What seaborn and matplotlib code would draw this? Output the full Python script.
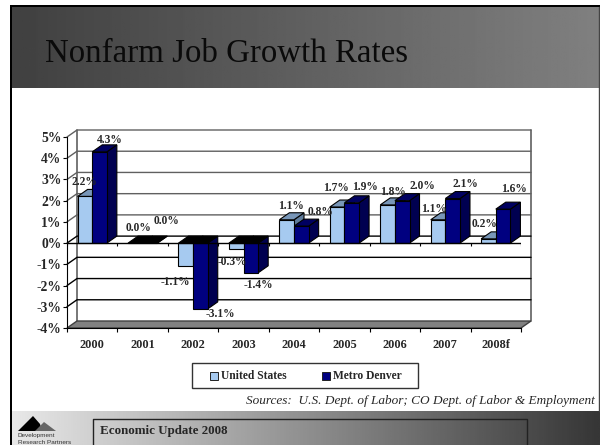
import numpy as np
import pandas as pd
import matplotlib.pyplot as plt
import seaborn as sns

years = ['2000', '2001', '2002', '2003', '2004', '2005', '2006', '2007', '2008f']
us = [2.2, 0.0, -1.1, -0.3, 1.1, 1.7, 1.8, 1.1, 0.2]
denver = [4.3, 0.0, -3.1, -1.4, 0.8, 1.9, 2.0, 2.1, 1.6]
y_ticks = [-4, -3, -2, -1, 0, 1, 2, 3, 4, 5]

# label offsets from the bar top in pixels, picked by eye
us_off = [(0, 14), (3, 15), (-10, -16), (-4, -13), (4, 14), (-1, 19), (5, 13), (-4, 11), (-4, 15)]
denver_off = [(10, 12), (17, 22), (20, -5), (8, -12), (19, 14), (13, 16), (20, 15), (13, 15), (11, 20)]

W, H = 600, 445
SERIF = 'Liberation Serif'
sns.set_style('white', {'font.family': SERIF})
plt.rcParams['font.family'] = SERIF

fig = plt.figure(figsize=(6, 4.45), dpi=100)

# slide background, in pixel coords
bg = fig.add_axes([0, 0, 1, 1])
bg.axis('off')
bg.imshow(np.linspace(0x40, 0x80, 256).reshape(1, -1), cmap='gray', vmin=0, vmax=255,
          extent=(12, 600, 88, 7), aspect='auto')
bg.imshow(np.linspace(0xe8, 0x36, 256).reshape(1, -1), cmap='gray', vmin=0, vmax=255,
          extent=(12, 600, 445, 411), aspect='auto')
bg.set_xlim(0, W)
bg.set_ylim(H, 0)
bg.fill([10, 600, 600, 10], [5, 5, 7, 7], color='black', lw=0)
bg.fill([10, 12, 12, 10], [5, 5, 445, 445], color='black', lw=0)
bg.plot([599, 599], [7, 411], color='#444444', lw=1)
bg.text(45, 54, 'Nonfarm Job Growth Rates', fontsize=23.7, color='#0a0a0a', va='center', ha='left')

# footer
bg.plot([93, 93, 527, 527], [445, 419, 419, 445], color='#222222', lw=1)
bg.text(100, 431, 'Economic Update 2008', fontsize=9.4, fontweight='bold', va='center', ha='left')
bg.fill([18, 33, 40, 42, 35], [431, 416, 424, 431, 431], color='black', lw=0)
bg.fill([35, 44, 56], [431, 422, 431], color='#666666', lw=0)
bg.text(18, 436, 'Development', fontsize=4.6, family='Liberation Sans', color='#333333', va='center')
bg.text(18, 442, 'Research Partners', fontsize=4.6, family='Liberation Sans', color='#333333', va='center')

# legend and source
bg.fill([191.5, 418, 418, 191.5], [363, 363, 388, 388], facecolor='white', edgecolor='#333333', lw=1)
bg.fill([210, 218, 218, 210], [372, 372, 380, 380], facecolor='#a6caf0', edgecolor='#222222', lw=0.7)
bg.fill([322, 330, 330, 322], [372, 372, 380, 380], facecolor='#000080', edgecolor='#222222', lw=0.7)
bg.text(221, 376, 'United States', fontsize=8.3, fontweight='bold', va='center', ha='left')
bg.text(333, 376, 'Metro Denver', fontsize=8.3, fontweight='bold', va='center', ha='left')
bg.text(595, 401, 'Sources:  U.S. Dept. of Labor; CO Dept. of Labor & Employment',
        fontsize=9.55, style='italic', va='center', ha='right')

# chart, axes box is the front plane of the 3d look
ax = fig.add_axes([67 / W, 1 - 328 / H, (521 - 67) / W, (328 - 137) / H])
ax.patch.set_alpha(0)

df = pd.DataFrame({
    'year': years + years,
    'value': us + denver,
    'series': ['United States'] * len(us) + ['Metro Denver'] * len(denver),
})
sns.barplot(data=df, x='year', y='value', hue='series', order=years,
            hue_order=['United States', 'Metro Denver'],
            palette=['#a6caf0', '#000080'], width=0.58, gap=0, saturation=1,
            edgecolor='black', linewidth=0.8, legend=False, ax=ax, zorder=6)
ax.set_xlim(-0.5, 8.5)
ax.set_ylim(-4, 5)
ax.set_xlabel('')
ax.set_ylabel('')

dx = 10 / ((521 - 67) / 9)
dy = 7 / ((328 - 137) / 9)

# back wall and floor
x0, x1 = -0.5, 8.5
ax.plot([x0 + dx, x0 + dx], [-4 + dy, 5 + dy], color='#606060', lw=1.2, clip_on=False, zorder=1)
ax.plot([x1 + dx, x1 + dx], [-4 + dy, 5 + dy], color='#606060', lw=1.2, clip_on=False, zorder=1)
for t in y_ticks[1:]:
    col = '#606060' if t > 0 else 'black'
    ax.plot([x0, x0 + dx, x1 + dx], [t, t + dy, t + dy], color=col, lw=1, clip_on=False, zorder=1)
ax.fill([x0, x1, x1 + dx, x0 + dx], [-4, -4, -4 + dy, -4 + dy], facecolor='#808080',
        edgecolor='#404040', lw=1, clip_on=False, zorder=2)

# side and top faces
w = 0.29
for j, (vals, top_col, side_col) in enumerate([(us, '#7896b8', '#5f7c9c'), (denver, '#000060', '#000050')]):
    for i, v in enumerate(vals):
        left = i - w + j * w
        right = left + w
        hi = max(v, 0)
        lo = min(v, 0)
        ax.fill([right, right + dx, right + dx, right], [lo, lo + dy, hi + dy, hi],
                facecolor=side_col, edgecolor='black', lw=0.8, clip_on=False, zorder=3 + j)
        face = top_col if v > 0 else 'black'
        ax.fill([left, right, right + dx, left + dx], [hi, hi, hi + dy, hi + dy],
                facecolor=face, edgecolor='black', lw=0.8, clip_on=False, zorder=3 + j)

# front axis at zero with its ticks
bounds = np.arange(-0.5, 9)
ax.plot([x0, x1], [0, 0], color='black', lw=1, zorder=7)
ax.vlines(bounds, -0.14, 0, color='black', lw=0.8, zorder=7)

# value labels
for j, (vals, offs) in enumerate([(us, us_off), (denver, denver_off)]):
    for i, v in enumerate(vals):
        ax.annotate(f'{v:.1f}%', (i - w / 2 + j * w, v), xytext=offs[i], textcoords='offset pixels',
                    ha='center', va='center', fontsize=8.3, fontweight='bold', zorder=8,
                    annotation_clip=False)

sns.despine(ax=ax, top=True, right=True)
ax.spines['left'].set_color('black')
ax.spines['bottom'].set_color('black')
ax.set_yticks(y_ticks)
ax.set_yticklabels([f'{t}%' for t in y_ticks], fontsize=9.8, fontweight='bold')
ax.set_xticks(range(len(years)))
ax.set_xticklabels(years, fontsize=8.8, fontweight='bold')
ax.set_xticks(bounds, minor=True)
ax.tick_params(axis='x', which='major', length=0, pad=8)
ax.tick_params(axis='x', which='minor', length=3, width=0.8, color='black', bottom=True)
ax.tick_params(axis='y', length=3, width=0.8, color='black', left=True, pad=1)

fig.savefig('out.png', dpi=100)
